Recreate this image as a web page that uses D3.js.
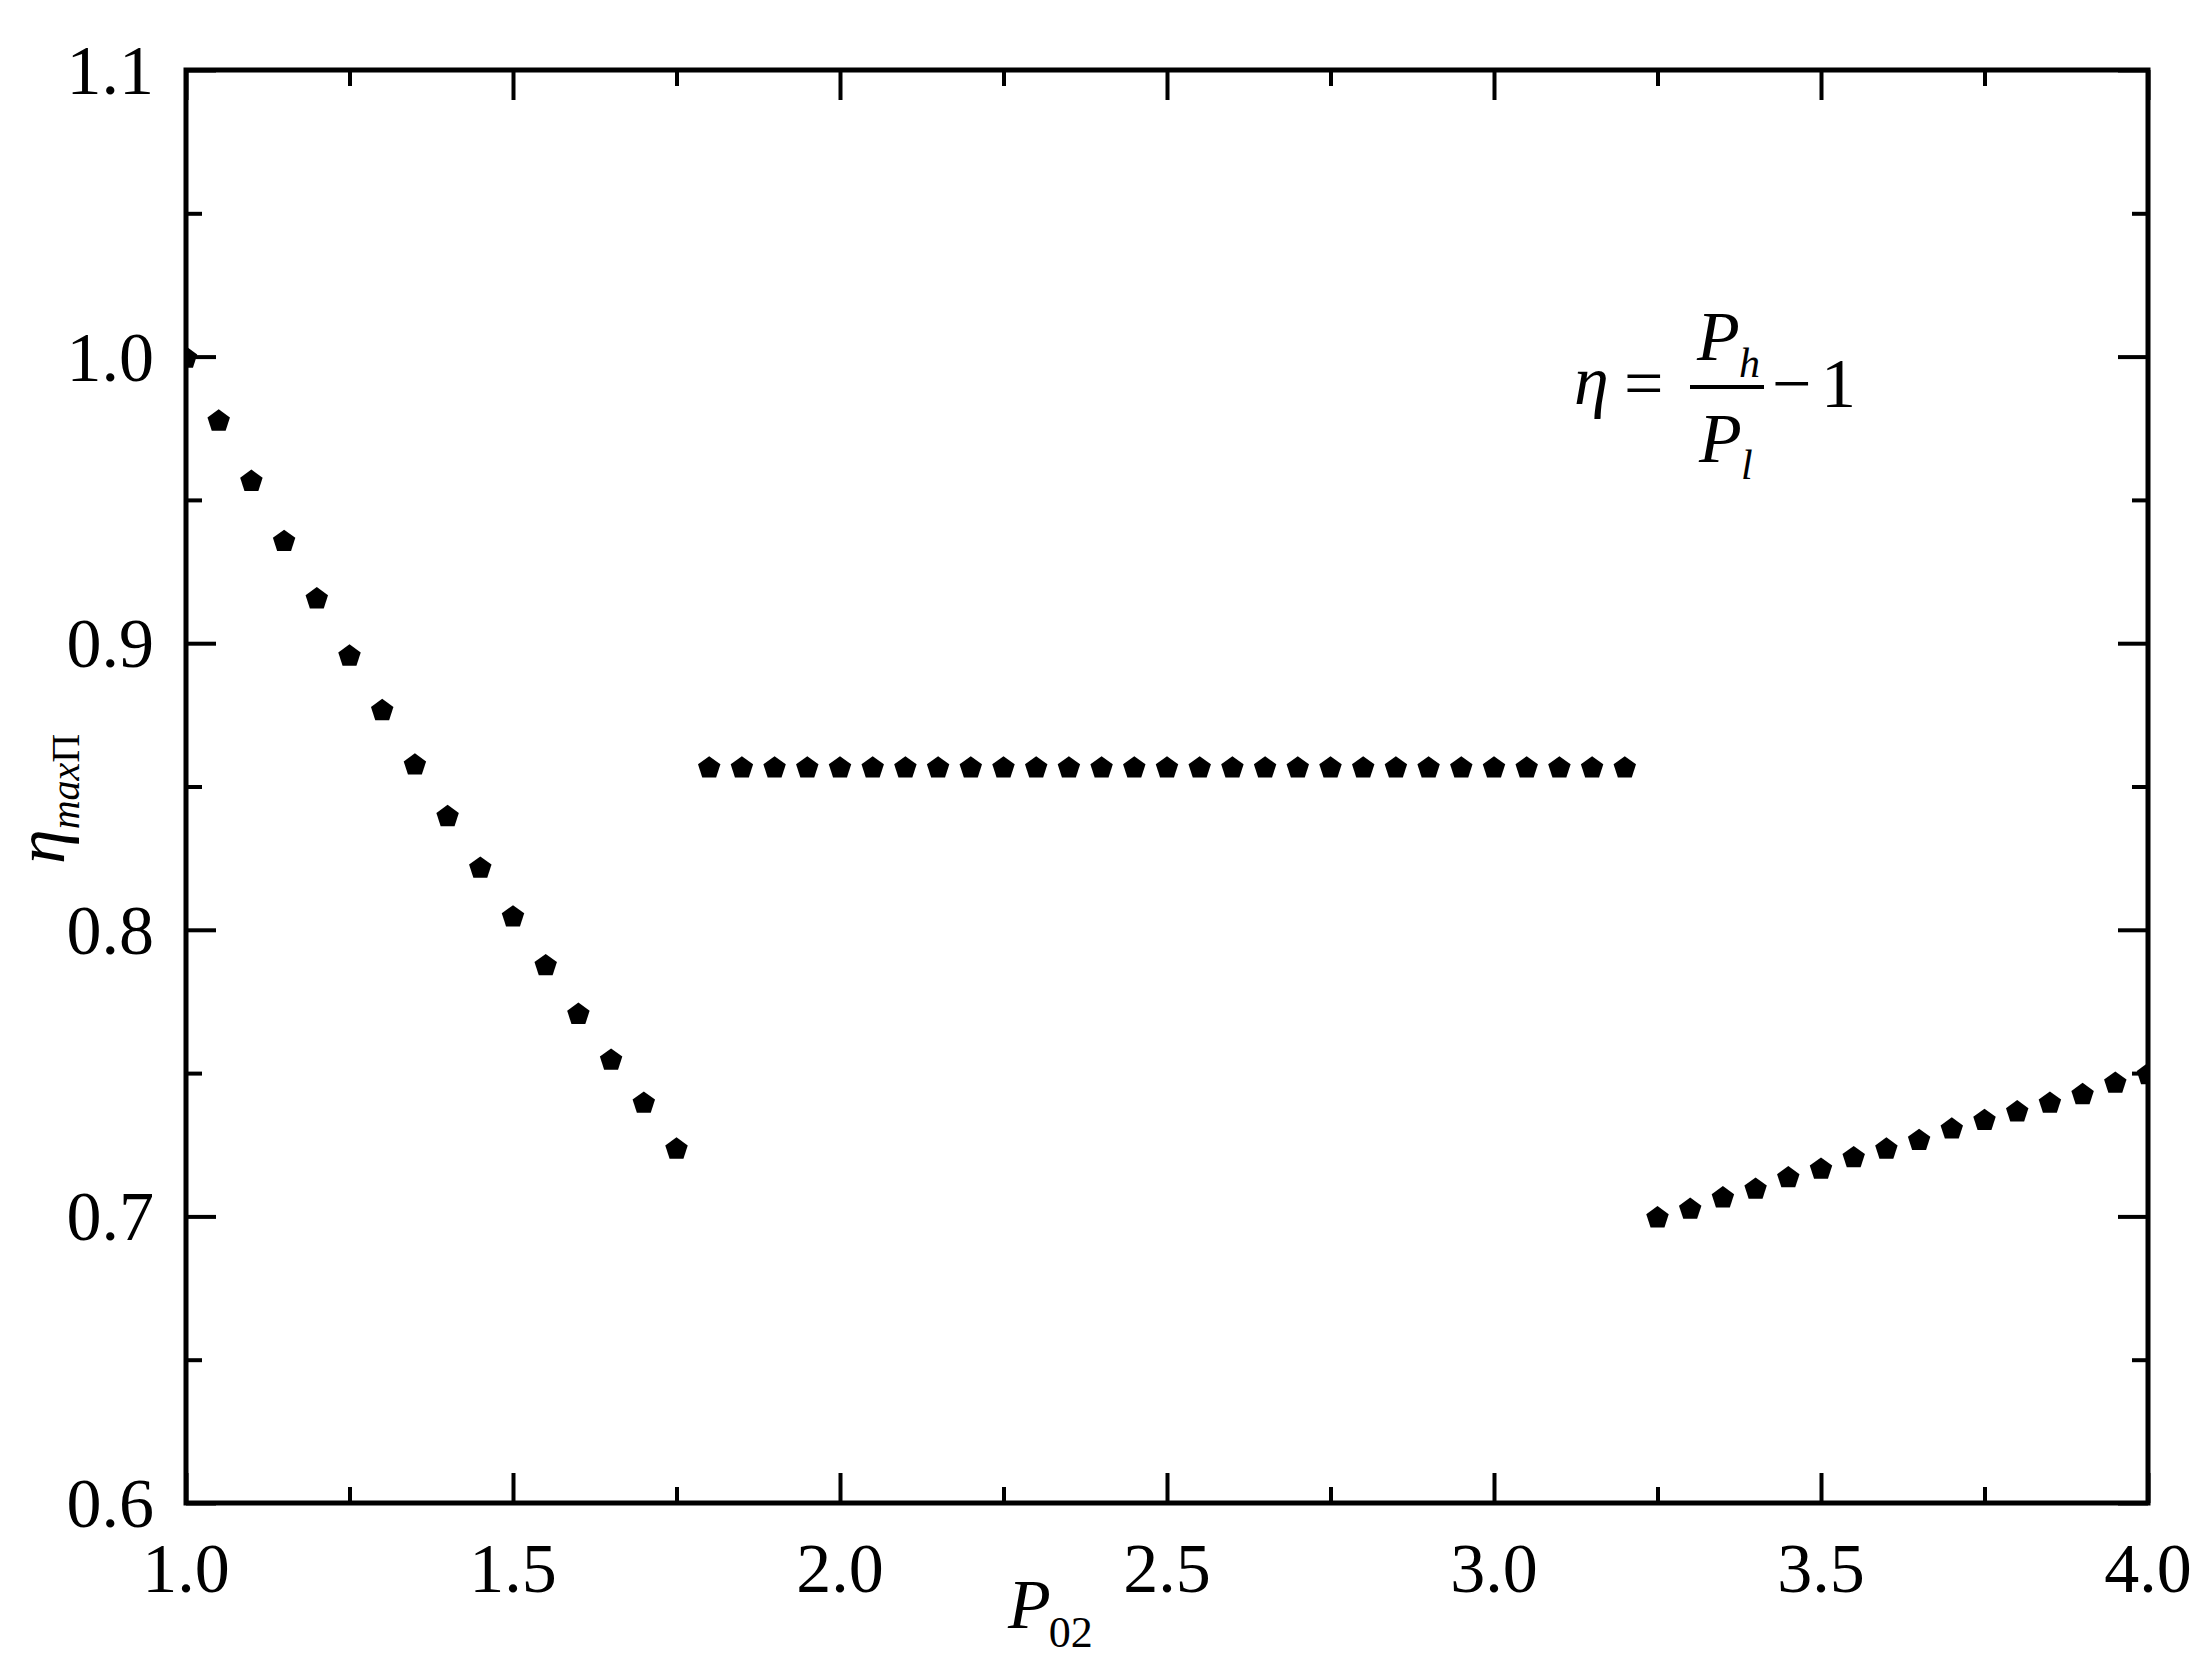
<!DOCTYPE html>
<html>
<head>
<meta charset="utf-8">
<script src="https://cdn.jsdelivr.net/npm/d3@7"></script>
<style>
  html, body { margin: 0; padding: 0; background: #ffffff; }
  svg { display: block; }
  text { font-family: "Liberation Serif", "Times New Roman", serif; fill: #000; }
</style>
</head>
<body>
<svg id="chart" width="2211" height="1679"></svg>
<script>
// ---- data ----
const seriesA_x = [1.00, 1.05, 1.10, 1.15, 1.20, 1.25, 1.30, 1.35, 1.40, 1.45, 1.50, 1.55, 1.60, 1.65, 1.70, 1.75];
const seriesA_y = [1.000, 0.978, 0.957, 0.936, 0.916, 0.896, 0.877, 0.858, 0.840, 0.822, 0.805, 0.788, 0.771, 0.755, 0.740, 0.724];

const seriesB_x = [1.80, 1.85, 1.90, 1.95, 2.00, 2.05, 2.10, 2.15, 2.20, 2.25, 2.30, 2.35, 2.40, 2.45, 2.50,
                   2.55, 2.60, 2.65, 2.70, 2.75, 2.80, 2.85, 2.90, 2.95, 3.00, 3.05, 3.10, 3.15, 3.20];
const seriesB_y = [0.857, 0.857, 0.857, 0.857, 0.857, 0.857, 0.857, 0.857, 0.857, 0.857, 0.857, 0.857, 0.857, 0.857, 0.857,
                   0.857, 0.857, 0.857, 0.857, 0.857, 0.857, 0.857, 0.857, 0.857, 0.857, 0.857, 0.857, 0.857, 0.857];

const seriesC_x = [3.25, 3.30, 3.35, 3.40, 3.45, 3.50, 3.55, 3.60, 3.65, 3.70, 3.75, 3.80, 3.85, 3.90, 3.95, 4.00];
const seriesC_y = [0.700, 0.703, 0.707, 0.710, 0.714, 0.717, 0.721, 0.724, 0.727, 0.731, 0.734, 0.737, 0.740, 0.743, 0.747, 0.750];

const xMajorTicks = [1.0, 1.5, 2.0, 2.5, 3.0, 3.5, 4.0];
const xMinorTicks = [1.25, 1.75, 2.25, 2.75, 3.25, 3.75];
const yMajorTicks = [0.6, 0.7, 0.8, 0.9, 1.0, 1.1];
const yMinorTicks = [0.65, 0.75, 0.85, 0.95, 1.05];
const xDomain = [1.0, 4.0];
const yDomain = [0.6, 1.1];

// ---- layout ----
const L = 186, R = 2148, T = 70, B = 1503;
const svg = d3.select("#chart");
svg.append("rect").attr("width", 2211).attr("height", 1679).attr("fill", "#ffffff");

const x = d3.scaleLinear().domain(xDomain).range([L, R]);
const y = d3.scaleLinear().domain(yDomain).range([B, T]);

// clip for markers
svg.append("defs").append("clipPath").attr("id", "plotclip")
  .append("rect").attr("x", L).attr("y", T).attr("width", R - L).attr("height", B - T);

// pentagon marker path
function pentagon(r) {
  const pts = d3.range(5).map(i => {
    const a = -Math.PI / 2 + i * 2 * Math.PI / 5;
    return [r * Math.cos(a), r * Math.sin(a)];
  });
  return "M" + pts.map(p => p[0].toFixed(2) + "," + p[1].toFixed(2)).join("L") + "Z";
}
const penta = pentagon(11.8);

const allSeries = [
  d3.zip(seriesA_x, seriesA_y),
  d3.zip(seriesB_x, seriesB_y),
  d3.zip(seriesC_x, seriesC_y)
];

const marks = svg.append("g").attr("clip-path", "url(#plotclip)");
allSeries.forEach(s => {
  marks.selectAll(null).data(s).enter().append("path")
    .attr("d", penta)
    .attr("transform", d => `translate(${x(d[0])},${y(d[1]) + 1.5})`)
    .attr("fill", "#000");
});

// ---- axes (ticks inward, on all four sides) ----
const majorLen = 30, minorLen = 16, tickW = 4;
function styleAxis(g) {
  g.select(".domain").remove();
  g.selectAll(".tick line").attr("stroke", "#000").attr("stroke-width", tickW);
  g.selectAll(".tick text").remove();
}
// bottom
svg.append("g").attr("transform", `translate(0,${B})`)
  .call(d3.axisTop(x).tickValues(xMajorTicks).tickSize(majorLen)).call(styleAxis);
svg.append("g").attr("transform", `translate(0,${B})`)
  .call(d3.axisTop(x).tickValues(xMinorTicks).tickSize(minorLen)).call(styleAxis);
// top
svg.append("g").attr("transform", `translate(0,${T})`)
  .call(d3.axisBottom(x).tickValues(xMajorTicks).tickSize(majorLen)).call(styleAxis);
svg.append("g").attr("transform", `translate(0,${T})`)
  .call(d3.axisBottom(x).tickValues(xMinorTicks).tickSize(minorLen)).call(styleAxis);
// left
svg.append("g").attr("transform", `translate(${L},0)`)
  .call(d3.axisRight(y).tickValues(yMajorTicks).tickSize(majorLen)).call(styleAxis);
svg.append("g").attr("transform", `translate(${L},0)`)
  .call(d3.axisRight(y).tickValues(yMinorTicks).tickSize(minorLen)).call(styleAxis);
// right
svg.append("g").attr("transform", `translate(${R},0)`)
  .call(d3.axisLeft(y).tickValues(yMajorTicks).tickSize(majorLen)).call(styleAxis);
svg.append("g").attr("transform", `translate(${R},0)`)
  .call(d3.axisLeft(y).tickValues(yMinorTicks).tickSize(minorLen)).call(styleAxis);

// frame
svg.append("rect").attr("x", L).attr("y", T).attr("width", R - L).attr("height", B - T)
  .attr("fill", "none").attr("stroke", "#000").attr("stroke-width", 5);

// tick labels
const fmt = d3.format(".1f");
svg.append("g").selectAll("text").data(xMajorTicks).enter().append("text")
  .attr("x", d => x(d)).attr("y", 1592)
  .attr("text-anchor", "middle").attr("font-size", 70)
  .text(d => fmt(d));
svg.append("g").selectAll("text").data(yMajorTicks).enter().append("text")
  .attr("x", 154).attr("y", d => y(d) + 24)
  .attr("text-anchor", "end").attr("font-size", 70)
  .text(d => fmt(d));

// x axis title: P02
const xt = svg.append("text").attr("x", 1008).attr("y", 1628).attr("font-size", 70);
xt.append("tspan").attr("font-style", "italic").text("P");
xt.append("tspan").attr("font-size", 44).attr("dy", 19).attr("dx", -2).text("02");

// y axis title: η_maxΠ (rotated)
const yt = svg.append("text").attr("transform", "translate(64,864) rotate(-90)").attr("font-size", 70);
yt.append("tspan").attr("font-style", "italic").text("η");
yt.append("tspan").attr("font-style", "italic").attr("font-size", 40).attr("dy", 15).text("max");
yt.append("tspan").attr("font-size", 40).text("Π");

// formula  η = P_h / P_l − 1
const f = svg.append("g");
f.append("text").attr("x", 1574).attr("y", 404).attr("font-size", 70).attr("font-style", "italic").text("η");
f.append("text").attr("x", 1624).attr("y", 407).attr("font-size", 70).text("=");
f.append("text").attr("x", 1697).attr("y", 360).attr("font-size", 70).attr("font-style", "italic").text("P");
f.append("text").attr("x", 1739).attr("y", 377).attr("font-size", 42).attr("font-style", "italic").text("h");
f.append("line").attr("x1", 1690).attr("x2", 1764).attr("y1", 387).attr("y2", 387)
  .attr("stroke", "#000").attr("stroke-width", 4);
f.append("text").attr("x", 1699).attr("y", 462).attr("font-size", 70).attr("font-style", "italic").text("P");
f.append("text").attr("x", 1741).attr("y", 479).attr("font-size", 42).attr("font-style", "italic").text("l");
f.append("text").attr("x", 1772).attr("y", 407).attr("font-size", 70).text("−");
f.append("text").attr("x", 1821).attr("y", 407).attr("font-size", 70).text("1");
</script>
</body>
</html>
